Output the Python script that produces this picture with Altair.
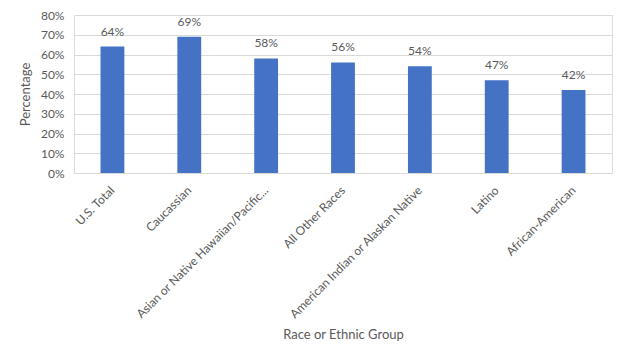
import altair as alt
import pandas as pd

categories = ["U.S. Total", "Caucassian", "Asian or Native Hawaiian/Pacific Islander",
              "All Other Races", "American Indian or Alaskan Native", "Latino", "African-American"]
values = [0.64, 0.69, 0.58, 0.56, 0.54, 0.47, 0.42]
y_ticks = [0, 0.1, 0.2, 0.3, 0.4, 0.5, 0.6, 0.7, 0.8]

df = pd.DataFrame({"group": categories, "pct": values})

FONT = "Lato"
GREY = "#595959"

x = alt.X("group:N", sort=categories, title="Race or Ethnic Group",
          scale=alt.Scale(paddingInner=0.69, paddingOuter=0.345),
          axis=alt.Axis(labelAngle=-45, labelAlign="right", labelBaseline="middle",
                        labelPadding=15, labelLimit=0, labelFontSize=12, labelColor=GREY,
                        labelExpr="replace(datum.label, ' Islander', '...')",
                        labelFont=FONT, titleFont=FONT, titleFontSize=13, titleColor=GREY,
                        titleFontWeight="normal", titlePadding=8,
                        ticks=False, domainColor="#d9d9d9", labelOverlap=False))
y = alt.Y("pct:Q", title="Percentage",
          scale=alt.Scale(domain=[0, 0.8]),
          axis=alt.Axis(format=".0%", values=y_ticks, tickCount=9,
                        labelFontSize=12, labelColor=GREY, labelFont=FONT, labelPadding=10,
                        labelOverlap=False,
                        titleFont=FONT, titleFontSize=13, titleColor=GREY,
                        titleFontWeight="normal", titlePadding=8,
                        ticks=False, domain=False, gridColor="#d9d9d9"))

base = alt.Chart(df).encode(x=x, y=y)
bars = base.mark_bar(color="#4472C4")
text = base.mark_text(dy=-8, baseline="bottom", font=FONT, fontSize=12, color=GREY).encode(
    text=alt.Text("pct:Q", format=".0%"))

chart = (bars + text).properties(
    width=538, height=158,
    autosize=alt.AutoSizeParams(type="none"),
    padding={"left": 66, "top": 7, "right": 20, "bottom": 179},
).configure_view(stroke=None).configure(background="white")

chart.save("out.html", embed_options={"renderer": "svg", "actions": False})
